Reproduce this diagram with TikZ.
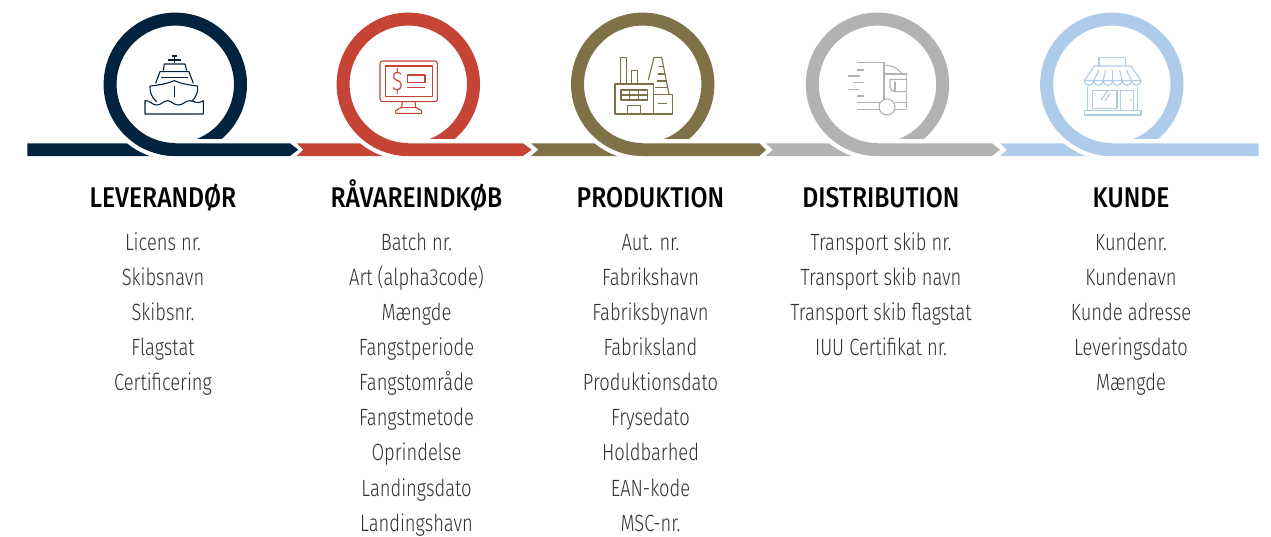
\documentclass[tikz,border=0pt]{standalone}
\usepackage{fontspec}
\setmainfont{Fira Sans Light}[FakeStretch=0.78]
\newfontfamily\headfont{Fira Sans Medium}[FakeStretch=0.865]
\definecolor{navy}{HTML}{02233F}
\definecolor{brick}{HTML}{C54436}
\definecolor{olive}{HTML}{807247}
\definecolor{stone}{HTML}{B2B2B0}
\definecolor{sky}{HTML}{ADCBEA}
\definecolor{itemgray}{HTML}{303030}
\tikzset{
  headtext/.style={anchor=base,inner sep=0pt,text=black,font=\headfont\fontsize{28.5}{30}\selectfont},
  itemtext/.style={anchor=base,inner sep=0pt,text=itemgray,font=\fontsize{23.5}{25}\selectfont},
  iconline/.style={line width=1.1pt,line join=round}
}
\begin{document}
\begin{tikzpicture}[x=1pt,y=1pt,yscale=-1]
    \useasboundingbox (0,0) rectangle (1271,536);
    % bands: left corner, notch, shoulder, tip
    \foreach \col/\xa/\xb/\xc/\xd in {navy/27.3/27.3/290/298.3,brick/296.7/303.3/523/531.7,
      olive/531/538.3/759.3/766,stone/765.7/773/992/1000,sky/1000/1007/1258.7/1258.7}{
      \fill[\col] (\xa,143.3) -- (\xc,143.3) -- (\xd,149.7) -- (\xc,156) -- (\xa,156) -- (\xb,149.7) -- cycle;
    }
    % rings, the white arc cuts the band on the left
    \foreach \cx/\col in {175.3/navy,408.3/brick,642.7/olive,877.5/stone,1111.8/sky}{
      \begin{scope}[shift={(\cx,84.3)}]
        \draw[white,line width=4.5pt] (150:73.85) arc[start angle=150,end angle=90,radius=73.85];
        \fill[\col] (49.7:71.7) arc[start angle=49.7,end angle=-270,radius=71.7]
          -- (90:58.7) arc[start angle=-270,end angle=68.6,radius=58.7] -- cycle;
      \end{scope}
    }
    % ship
    \begin{scope}[shift={(135,50)},scale=1/3,navy,iconline]
      \draw (118,18) -- (118,40);
      \draw (110,18) -- (126,18);
      \draw (100,30) -- (138,30);
      \draw (85,62) -- (88,42) -- (150,42) -- (155,62);
      \draw (62,100) -- (75,65) -- (162,65) -- (175,100);
      \draw (78,82) -- (158,82);
      \draw (65,155) .. controls (48,140) and (44,125) .. (45,108)
        .. controls (75,105) and (100,100) .. (118,92)
        .. controls (136,100) and (160,105) .. (188,108)
        .. controls (189,125) and (185,140) .. (170,155);
      \draw (118,108) -- (118,140);
      \draw (30,152) .. controls (45,150) and (50,165) .. (65,165)
        .. controls (80,165) and (85,152) .. (97,152)
        .. controls (110,152) and (115,165) .. (130,165)
        .. controls (145,165) and (150,152) .. (165,152)
        .. controls (178,152) and (185,165) .. (205,152)
        -- (205,192) -- (30,192) -- cycle;
    \end{scope}
    % monitor
    \begin{scope}[shift={(370,50)},scale=1/3,brick,iconline]
      \draw[rounded corners=2.5pt] (30,33) rectangle (202,155);
      \draw (47,48) rectangle (188,140);
      \node[inner sep=0pt,text=brick,font=\fontsize{27}{28}\selectfont] (Dollar) at (82,93) {\$};
      \draw (112,75) rectangle (165,97);
      \draw (112,112) -- (165,112);
      \draw (97,155) -- (95,172) -- (77,182) -- (77,190) -- (155,190) -- (155,182) -- (137,172) -- (135,155);
      \draw (95,172) -- (137,172);
    \end{scope}
    % factory
    \begin{scope}[shift={(605,50)},scale=1/3,olive,iconline]
      \draw (47,100) -- (47,22) -- (65,22) -- (65,100);
      \draw (80,100) -- (80,62) -- (97,62) -- (97,100);
      \draw (30,102) rectangle (145,192);
      \draw (48,120) rectangle (127,150);
      \draw (48,135) -- (127,135);
      \draw (74,120) -- (74,150) (100,120) -- (100,150);
      \draw (68,192) -- (68,167) -- (107,167) -- (107,192);
      \draw (145,133) rectangle (203,192);
      \draw (160,160) -- (187,160);
      \draw (130,90) -- (147,22) -- (170,22) -- (192,133);
      \foreach \y/\xl/\xr in {50/163/176,72/160/181,93/155/185,113/150/189}{
        \draw (\xl,\y) -- (\xr,\y);
      }
    \end{scope}
    % truck
    \begin{scope}[shift={(840,50)},scale=1/3,stone,iconline]
      \draw (52,38) -- (132,38) -- (132,150);
      \draw (132,45) .. controls (158,46) and (176,56) .. (186,72);
      \draw (132,72) -- (200,72) -- (200,178) -- (165,178);
      \draw (200,88) -- (150,88) -- (150,112) .. controls (150,120) and (156,125) .. (165,125) -- (200,125);
      \draw (165,97) -- (165,125);
      \foreach \y/\xl/\xr in {60/52/72,78/25/60,98/38/72,118/25/58,138/52/72}{
        \draw (\xl,\y) -- (\xr,\y);
      }
      \draw (52,158) -- (120,158) (52,178) -- (118,178) (165,158) -- (200,158);
      \draw (141,171) circle[radius=24];
    \end{scope}
    % shop
    \begin{scope}[shift={(1075,50)},scale=1/3,sky,iconline]
      \draw (72,48) -- (72,22) -- (152,22) -- (152,48);
      \draw (28,92) -- (58,48) -- (168,48) -- (198,92) -- cycle;
      \foreach \x in {28.00,56.33,84.67,113.00,141.33,169.67}{
        \draw (\x,92) arc[start angle=180,end angle=0,radius=14.17];
      }
      \foreach \xb/\xt in {56.33/72,84.67/92,113/113,141.33/134,169.67/154}{
        \draw (\xb,92) -- (\xt,60);
      }
      \draw (38,110) -- (38,182) (188,110) -- (188,182);
      \draw (52,122) rectangle (126,175);
      \draw (78,150) -- (98,122) (90,152) -- (106,130);
      \draw (137,182) -- (137,122) -- (175,122) -- (175,182);
      \draw (166,148) -- (166,153);
      \draw (28,182) rectangle (198,195);
    \end{scope}
    % texts under the rings
    \foreach \colx/\heading/\items [count=\c] in {
      163/LEVERANDØR/{Licens nr.,Skibsnavn,Skibsnr.,Flagstat,Certificering},
      416.5/RÅVAREINDKØB/{Batch nr.,Art (alpha3code),Mængde,Fangstperiode,Fangstområde,Fangstmetode,Oprindelse,Landingsdato,Landingshavn},
      650.5/PRODUKTION/{Aut. nr.,Fabrikshavn,Fabriksbynavn,Fabriksland,Produktionsdato,Frysedato,Holdbarhed,EAN-kode,MSC-nr.},
      881/DISTRIBUTION/{Transport skib nr.,Transport skib navn,Transport skib flagstat,IUU Certifikat nr.},
      1131/KUNDE/{Kundenr.,Kundenavn,Kunde adresse,Leveringsdato,Mængde}}{
      \node[headtext] (Head\c) at (\colx,207.5) {\heading};
      \foreach \txt [count=\i] in \items {
        \node[itemtext] (Item\c-\i) at (\colx,{250+35.15*(\i-1)}) {\txt};
      }
    }
\end{tikzpicture}
\end{document}
